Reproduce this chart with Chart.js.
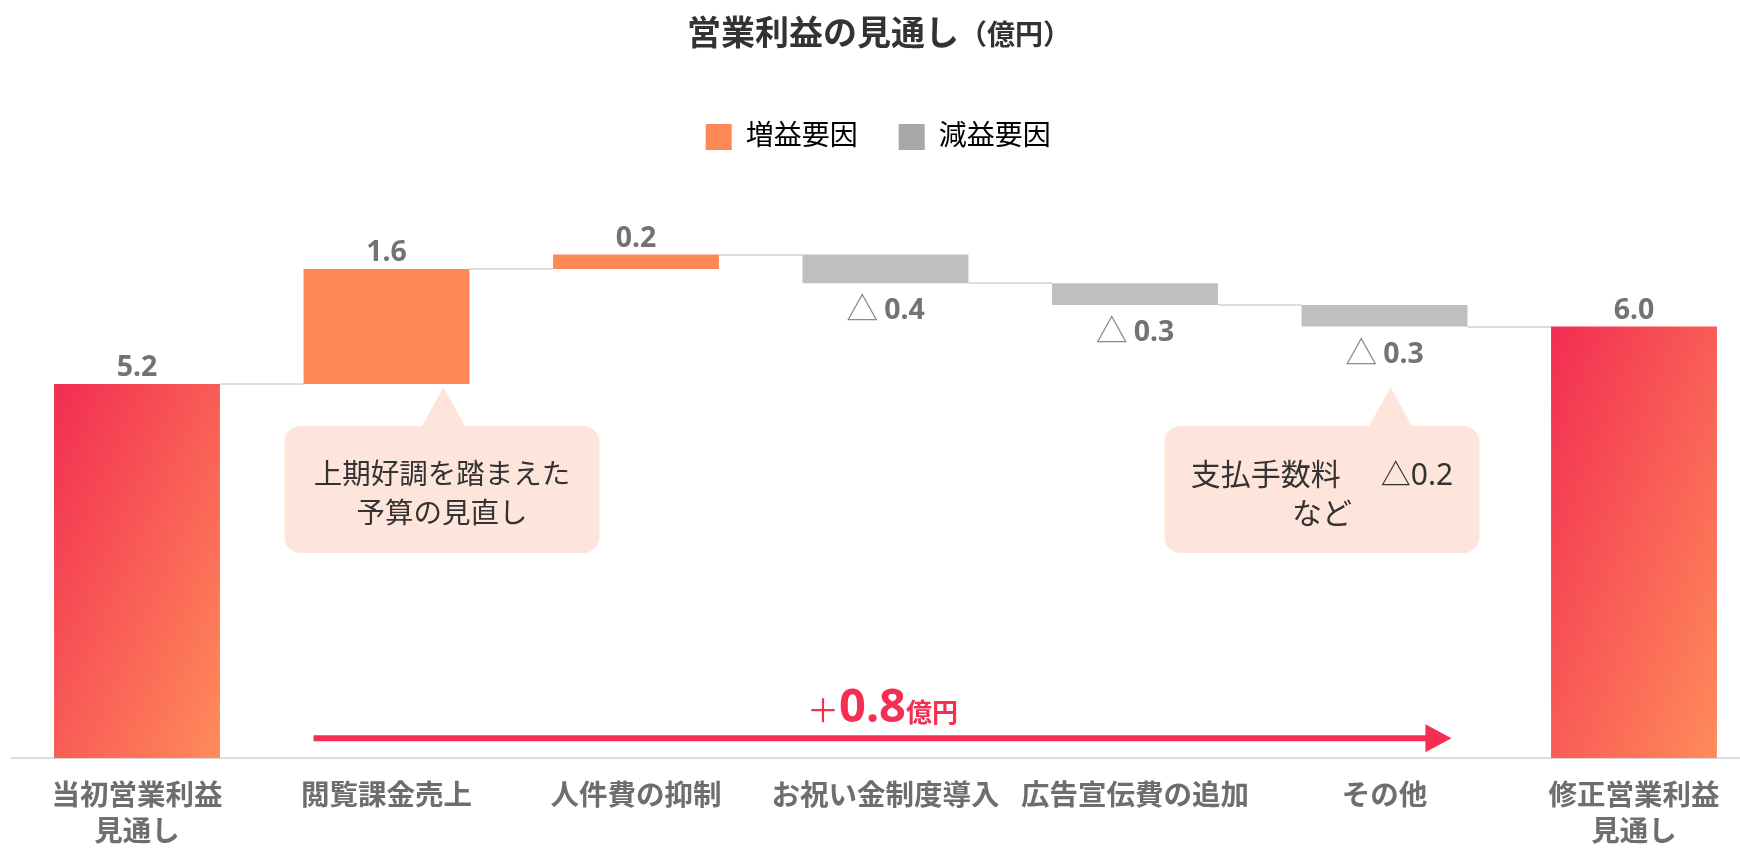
<!DOCTYPE html>
<html lang="ja">
<head>
<meta charset="utf-8">
<title>営業利益の見通し</title>
<script src="https://cdn.jsdelivr.net/npm/chart.js@4.4.1/dist/chart.umd.min.js"></script>
<style>
  html, body { margin: 0; padding: 0; background: #fff; overflow: hidden; }
  #wrap { position: relative; width: 1760px; height: 900px; }
</style>
</head>
<body>
<div id="wrap"><canvas id="profitChart" width="1760" height="900"></canvas></div>
<script>
// 営業利益の増減要因（億円）
const categories = [
  ["当初営業利益", "見通し"],
  "閲覧課金売上",
  "人件費の抑制",
  "お祝い金制度導入",
  "広告宣伝費の追加",
  "その他",
  ["修正営業利益", "見通し"]
];
const startValue = 5.2;
const deltas = [1.6, 0.2, -0.4, -0.3, -0.3];
const endValue = 6.0;
const legendNames = ["増益要因", "減益要因"];
const notes = [
  { index: 1, lines: ["上期好調を踏まえた", "予算の見直し"] },
  { index: 5, lines: ["支払手数料　△0.2", "など"] }
];

// 色・フォント
const ORANGE = "#ff8859";
const GREY = "#bfbfbf";
const LEGEND_GREY = "#a8a8a8";
const RED = "#f42f51";
const FONT = '"Noto Sans", "Noto Sans CJK JP", sans-serif';
const BAR_PCT = 0.665;

// 浮動棒 [下端, 上端] を積み上げで作る
const values = [startValue, ...deltas, endValue];
const ranges = [[0, startValue]];
let running = startValue;
deltas.forEach(d => {
  const next = Math.round((running + d) * 10) / 10;
  ranges.push([Math.min(running, next), Math.max(running, next)]);
  running = next;
});
ranges.push([0, endValue]);
const levels = [startValue];
running = startValue;
deltas.forEach(d => { running = Math.round((running + d) * 10) / 10; levels.push(running); });

const isTotal = i => i === 0 || i === categories.length - 1;

// 合計棒のグラデーション（左上→右下）
function totalGradient(chart, i) {
  const xs = chart.scales.x, ys = chart.scales.y;
  if (!chart.chartArea || !xs || !ys) return RED;
  const w = (xs.width / categories.length) * BAR_PCT;
  const top = ys.getPixelForValue(ranges[i][1]);
  const bottom = ys.getPixelForValue(0);
  const h = bottom - top;
  const cx = xs.getPixelForValue(i), cy = (top + bottom) / 2;
  const n = Math.hypot(w, h), L = w * h / n;
  const dx = h / n * L, dy = w / n * L;
  const g = chart.ctx.createLinearGradient(cx - dx, cy - dy, cx + dx, cy + dy);
  g.addColorStop(0, "#f22d52");
  g.addColorStop(1, "#ff8c5a");
  return g;
}

// タイトル（単位は小さめ）
const titlePlugin = {
  id: "titleText",
  afterDraw(chart) {
    const ctx = chart.ctx;
    ctx.save();
    ctx.fillStyle = "#333";
    ctx.textBaseline = "alphabetic";
    ctx.textAlign = "left";
    const main = "営業利益の見通し", unit = "（億円）";
    ctx.font = "bold 34px " + FONT;
    const w1 = ctx.measureText(main).width;
    ctx.font = "bold 28px " + FONT;
    const w2 = ctx.measureText(unit).width;
    const x0 = 687;
    ctx.font = "bold 34px " + FONT;
    ctx.fillText(main, x0, 45);
    ctx.font = "bold 28px " + FONT;
    ctx.fillText(unit, x0 + w1, 45);
    ctx.restore();
  }
};

// 棒と棒をつなぐ細線
const connectorPlugin = {
  id: "connectors",
  beforeDatasetsDraw(chart) {
    const ctx = chart.ctx, ys = chart.scales.y;
    const bars = chart.getDatasetMeta(0).data;
    ctx.save();
    ctx.strokeStyle = "#dcdcdc";
    ctx.lineWidth = 2;
    for (let i = 0; i < bars.length - 1; i++) {
      const y = Math.round(ys.getPixelForValue(levels[i]));
      ctx.beginPath();
      ctx.moveTo(bars[i].x + bars[i].width / 2, y);
      ctx.lineTo(bars[i + 1].x - bars[i + 1].width / 2, y);
      ctx.stroke();
    }
    ctx.restore();
  }
};

// 数値ラベル（減少は △ 表記で棒の下）
const valueLabelPlugin = {
  id: "valueLabels",
  afterDatasetsDraw(chart) {
    const ctx = chart.ctx, ys = chart.scales.y;
    const bars = chart.getDatasetMeta(0).data;
    ctx.save();
    ctx.textBaseline = "alphabetic";
    bars.forEach((bar, i) => {
      const v = values[i];
      const num = Math.abs(v).toFixed(1);
      if (v >= 0 || isTotal(i)) {
        ctx.font = "bold 28.5px " + FONT;
        ctx.fillStyle = "#737373";
        ctx.textAlign = "center";
        ctx.fillText(num, bar.x, ys.getPixelForValue(ranges[i][1]) - 8);
      } else {
        const y = ys.getPixelForValue(ranges[i][0]) + 36;
        ctx.font = "32px " + FONT;
        const tri = "△";
        const wt = ctx.measureText(tri).width + 6;
        ctx.font = "bold 28.5px " + FONT;
        const wn = ctx.measureText(num).width;
        const x0 = bar.x - (wt + wn) / 2;
        ctx.textAlign = "left";
        ctx.font = "32px " + FONT;
        ctx.fillStyle = "#8a8a8a";
        ctx.fillText(tri, x0, y + 1);
        ctx.font = "bold 28.5px " + FONT;
        ctx.fillStyle = "#737373";
        ctx.fillText(num, x0 + wt, y);
      }
    });
    ctx.restore();
  }
};

// 吹き出し（棒の下に注記）
const calloutLayout = {
  1: { left: -102, tipX: 57, size: 28.5, gap: 0 },
  5: { left: -220, tipX: 6, size: 30, gap: 40 }
};
const calloutPlugin = {
  id: "callouts",
  afterDatasetsDraw(chart) {
    const ctx = chart.ctx;
    const bars = chart.getDatasetMeta(0).data;
    ctx.save();
    notes.forEach(note => {
      const bar = bars[note.index];
      const lay = calloutLayout[note.index];
      const bx = bar.x + lay.left, by = 426, bw = 315, bh = 127, r = 16;
      const tx = bar.x + lay.tipX, ty = 387;
      ctx.fillStyle = "#fee5dc";
      ctx.beginPath();
      ctx.roundRect(bx, by, bw, bh, r);
      ctx.fill();
      ctx.beginPath();
      ctx.moveTo(tx - 22, by + 1);
      ctx.lineTo(tx, ty);
      ctx.lineTo(tx + 22, by + 1);
      ctx.closePath();
      ctx.fill();
      ctx.fillStyle = "#333";
      ctx.font = lay.size + "px " + FONT;
      ctx.textAlign = "left";
      ctx.textBaseline = "middle";
      const cx = bx + bw / 2, cy = by + bh / 2 + 6;
      note.lines.forEach((line, k) => {
        // 全角スペースの箇所は広めの間隔で区切る
        const segs = line.split("　");
        const widths = segs.map(s => ctx.measureText(s).width);
        const total = widths.reduce((a, b) => a + b, 0) + lay.gap * (segs.length - 1);
        let x = cx - total / 2;
        const y = cy + (k - (note.lines.length - 1) / 2) * 39;
        segs.forEach((s, j) => {
          ctx.fillText(s, x, y);
          x += widths[j] + lay.gap;
        });
      });
    });
    ctx.restore();
  }
};

// 増減合計の矢印
const arrowPlugin = {
  id: "diffArrow",
  afterDatasetsDraw(chart) {
    const ctx = chart.ctx, ys = chart.scales.y;
    const bars = chart.getDatasetMeta(0).data;
    const x1 = bars[1].x - bars[1].width / 2 + 10;
    const x2 = bars[5].x + bars[5].width / 2 - 16;
    const y = ys.getPixelForValue(0) - 20;
    ctx.save();
    ctx.strokeStyle = RED;
    ctx.fillStyle = RED;
    ctx.lineWidth = 6;
    ctx.beginPath();
    ctx.moveTo(x1, y);
    ctx.lineTo(x2 - 24, y);
    ctx.stroke();
    ctx.beginPath();
    ctx.moveTo(x2 - 26, y - 14);
    ctx.lineTo(x2, y);
    ctx.lineTo(x2 - 26, y + 14);
    ctx.closePath();
    ctx.fill();

    const diff = (Math.round((endValue - startValue) * 10) / 10).toFixed(1);
    const parts = [
      { t: "＋", f: "32px " + FONT },
      { t: diff, f: "bold 47px " + FONT },
      { t: "億円", f: "bold 26px " + FONT }
    ];
    let total = 0;
    parts.forEach(p => { ctx.font = p.f; p.w = ctx.measureText(p.t).width; total += p.w; });
    let x = (x1 + x2) / 2 - total / 2;
    ctx.textAlign = "left";
    ctx.textBaseline = "alphabetic";
    parts.forEach(p => {
      ctx.font = p.f;
      ctx.fillText(p.t, x, y - 16);
      x += p.w;
    });
    ctx.restore();
  }
};

document.addEventListener("DOMContentLoaded", () => {
  const ctx = document.getElementById("profitChart").getContext("2d");

  new Chart(ctx, {
    type: "bar",
    data: {
      labels: categories,
      datasets: [{
        data: ranges,
        backgroundColor: (c) => {
          const i = c.dataIndex;
          if (isTotal(i)) return totalGradient(c.chart, i);
          return deltas[i - 1] >= 0 ? ORANGE : GREY;
        },
        borderWidth: 0,
        borderSkipped: false,
        barPercentage: BAR_PCT,
        categoryPercentage: 1
      }]
    },
    options: {
      responsive: false,
      animation: false,
      layout: { padding: { top: 82, right: 1.25, bottom: 28.7, left: 12.25 } },
      plugins: {
        tooltip: { enabled: false },
        legend: {
          position: "top",
          onClick: null,
          labels: {
            boxWidth: 26,
            boxHeight: 26,
            padding: 41,
            color: "#444",
            font: { family: FONT, size: 28 },
            // 末尾の空白で凡例全体をやや左寄せにする
            generateLabels: () => legendNames.map((name, k) => ({
              text: k === legendNames.length - 1 ? name + "  " : name,
              fillStyle: k === 0 ? ORANGE : LEGEND_GREY,
              strokeStyle: k === 0 ? ORANGE : LEGEND_GREY,
              lineWidth: 0,
              hidden: false
            }))
          }
        }
      },
      scales: {
        x: {
          grid: { display: true, drawOnChartArea: false, drawTicks: false },
          border: { display: true, color: "#dcdcdc", width: 2 },
          ticks: {
            padding: 21,
            color: "#6e6e6e",
            maxRotation: 0,
            autoSkip: false,
            font: { family: FONT, size: 28.5, weight: "bold", lineHeight: 1.246 }
          }
        },
        y: {
          display: false,
          min: 0,
          max: 8.3
        }
      }
    },
    plugins: [titlePlugin, connectorPlugin, valueLabelPlugin, calloutPlugin, arrowPlugin]
  });
});
</script>
</body>
</html>
